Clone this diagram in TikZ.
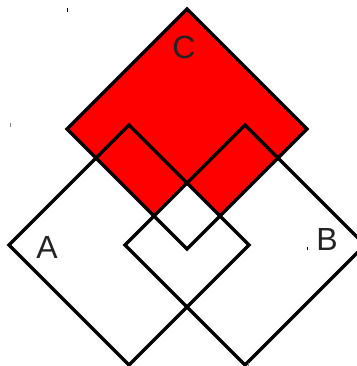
\documentclass[tikz,border=0pt]{standalone}
\usepackage{fontspec}
\setmainfont{Liberation Sans}
\definecolor{lbl}{HTML}{222222}
\begin{document}
\begin{tikzpicture}[x=1pt,y=-1pt,
  sq/.style={draw=black,line width=3.2pt,line join=miter},
  lab/.style={text=lbl,font=\fontsize{32}{32}\selectfont,inner sep=0pt,anchor=center},
  tick/.style={draw=black,line width=1pt}]
\useasboundingbox (0,0) rectangle (356,366);
% centres of the three squares (half diagonal 120)
\coordinate (cC) at (187,129);
\coordinate (cA) at (129,245);
\coordinate (cB) at (245,245);
\def\sqpath#1{(#1)++(-120,0) -- ++(120,-120) -- ++(120,120) -- ++(-120,120) -- cycle}
\fill[red] \sqpath{cC};
\begin{scope}
  \clip \sqpath{cA};
  \fill[white] \sqpath{cB};
\end{scope}
\draw[sq] \sqpath{cC};
\draw[sq] \sqpath{cA};
\draw[sq] \sqpath{cB};
\node[lab] (labC) at (184,47) {C};
\node[lab] (labA) at (47,247) {A};
\node[lab] (labB) at (327,239) {B};
% small stray marks
\coordinate (t1a) at (67.3,8); \coordinate (t1b) at (67.3,12);
\coordinate (t2a) at (10,123); \coordinate (t2b) at (10,127);
\coordinate (t3a) at (307.3,247); \coordinate (t3b) at (307.3,250);
\coordinate (t4a) at (248.5,363); \coordinate (t4b) at (248.5,366);
\draw[tick] (t1a) -- (t1b);
\draw[tick,draw=gray] (t2a) -- (t2b);
\draw[tick] (t3a) -- (t3b);
\draw[tick,draw=gray] (t4a) -- (t4b);
\end{tikzpicture}
\end{document}
